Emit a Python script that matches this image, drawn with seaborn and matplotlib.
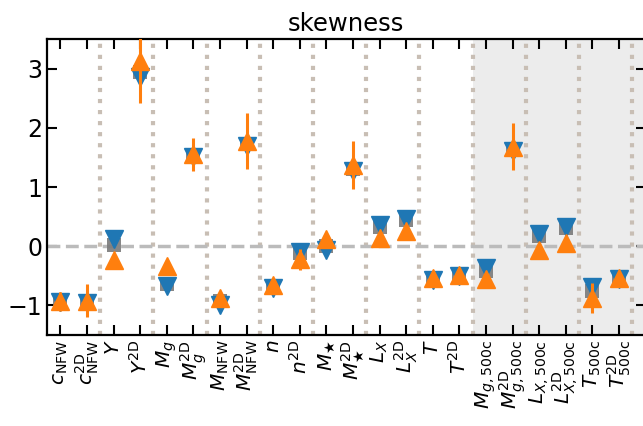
import numpy as np
import pandas as pd
import matplotlib
matplotlib.use('Agg')
import matplotlib.pyplot as plt
import seaborn as sns

# categories (x tick labels)
labels = [r'$c_{\rm NFW}$', r'$c^{\rm 2D}_{\rm NFW}$', r'$Y$', r'$Y^{\rm 2D}$',
          r'$M_g$', r'$M^{\rm 2D}_g$', r'$M_{\rm NFW}$', r'$M^{\rm 2D}_{\rm NFW}$',
          r'$n$', r'$n^{\rm 2D}$', r'$M_\bigstar$', r'$M^{\rm 2D}_\bigstar$',
          r'$L_X$', r'$L^{\rm 2D}_X$', r'$T$', r'$T^{\rm 2D}$',
          r'$M_{g,\rm 500c}$', r'$M^{\rm 2D}_{g,\rm 500c}$',
          r'$L_{X,\rm 500c}$', r'$L^{\rm 2D}_{X,\rm 500c}$',
          r'$T_{\rm 500c}$', r'$T^{\rm 2D}_{\rm 500c}$']

# gray reference values
ref_vals = [-0.95, -0.95, 0.02, 2.95, -0.63, 1.52, -0.93, 1.72, -0.68, -0.12, 0.0,
            1.30, 0.33, 0.44, -0.55, -0.48, -0.42, 1.62, 0.17, 0.30, -0.75, -0.55]

# blue series (down triangles)
blue_vals = [-0.95, -0.96, 0.13, 2.86, -0.68, 1.50, -1.00, 1.70, -0.70, -0.10, -0.07,
             1.27, 0.36, 0.46, -0.57, -0.50, -0.36, 1.60, 0.21, 0.32, -0.69, -0.56]
blue_err = [0.08, 0.08, 0.05, 0.10, 0.05, 0.06, 0.05, 0.08, 0.05, 0.05, 0.05,
            0.07, 0.04, 0.04, 0.05, 0.05, 0.04, 0.07, 0.04, 0.04, 0.05, 0.05]

# orange series (up triangles)
orange_vals = [-0.93, -0.92, -0.23, 3.13, -0.34, 1.55, -0.88, 1.78, -0.66, -0.22, 0.12,
               1.37, 0.14, 0.26, -0.53, -0.48, -0.56, 1.68, -0.07, 0.06, -0.87, -0.53]
orange_err = [0.16, 0.28, 0.04, 0.71, 0.04, 0.28, 0.10, 0.47, 0.08, 0.18, 0.06,
              0.40, 0.06, 0.06, 0.10, 0.08, 0.10, 0.40, 0.06, 0.06, 0.25, 0.08]

x = np.arange(len(labels))
df = pd.DataFrame({'x': x, 'ref': ref_vals, 'blue': blue_vals, 'orange': orange_vals})

sns.set_style('ticks')
plt.rcParams['font.family'] = ['DejaVu Sans']
for k in ['text.color', 'axes.labelcolor', 'xtick.color', 'ytick.color', 'axes.edgecolor']:
    plt.rcParams[k] = 'black'

fig = plt.figure(figsize=(6.43, 4.26), dpi=100)
ax = fig.add_axes([0.0731, 0.2136, 0.9308, 0.6948])

# shaded 500c block and separators
ax.axvspan(15.5, 22.5, color='#ececec', zorder=0, lw=0)
for xs in np.arange(1.5, len(labels), 2):
    ax.axvline(xs, color='#c8beb4', ls=':', lw=3, zorder=1)
ax.axhline(0, color='#bbbbbb', ls='--', lw=2.5, zorder=1)

sns.scatterplot(data=df, x='x', y='ref', marker='s', color='#7a7a7a', s=110,
                linewidth=0, alpha=0.9, ax=ax, zorder=2)
ax.errorbar(x, blue_vals, yerr=blue_err, fmt='v', color='#1f77b4', ms=13,
            elinewidth=2.2, zorder=3)
ax.errorbar(x, orange_vals, yerr=orange_err, fmt='^', color='#ff7f0e', ms=13,
            elinewidth=2.2, zorder=4)

ax.set_xlim(-0.5, 22.0)
ax.set_ylim(-1.5, 3.5)
ax.set_xticks(x)
ax.set_xticklabels(labels, rotation=90, fontsize=14.5)
ax.set_yticks([-1, 0, 1, 2, 3])
ax.tick_params(axis='y', labelsize=17)
ax.tick_params(direction='in', top=True, right=True, length=7, width=1.5)
for sp in ax.spines.values():
    sp.set_linewidth(1.6)
ax.set_xlabel('')
ax.set_ylabel('')
ax.set_title('skewness', fontsize=17.5)

fig.savefig('out.png', dpi=100)
